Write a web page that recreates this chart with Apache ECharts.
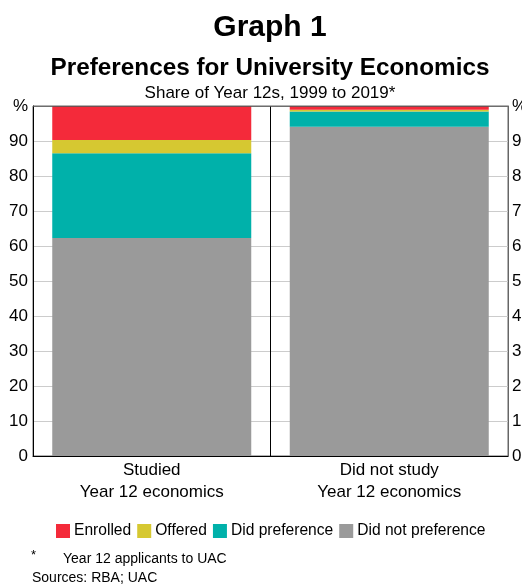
<!DOCTYPE html>
<html>
<head>
<meta charset="utf-8">
<script src="https://cdn.jsdelivr.net/npm/echarts@6/dist/echarts.min.js"></script>
<style>
html,body{margin:0;padding:0;background:#fff;}
#chart{width:522px;height:585px;}
</style>
</head>
<body>
<div id="chart"></div>
<script>
var categories = ['Studied\nYear 12 economics', 'Did not study\nYear 12 economics'];
var enrolled = [9.7, 1.1];
var offered = [3.8, 0.5];
var didPreference = [24.2, 4.3];
var didNotPreference = [62.3, 94.1];
var seriesNames = ['Enrolled', 'Offered', 'Did preference', 'Did not preference'];
var topTickLabel = '%';

var FONT = '"Liberation Sans", Arial, Helvetica, sans-serif';
var chart = echarts.init(document.getElementById('chart'), null, {renderer: 'canvas'});

function yLabel(v) { return v === 100 ? topTickLabel : String(v); }

function barSeries(name, data, color, extra) {
  var s = {
    name: name, type: 'bar', stack: 'total', data: data, barWidth: 199,
    itemStyle: {color: color}, emphasis: {disabled: true}, animation: false
  };
  if (extra) for (var k in extra) s[k] = extra[k];
  return s;
}

var option = {
  animation: false,
  textStyle: {fontFamily: FONT},
  grid: {left: 33, right: 14, top: 106, bottom: 129, containLabel: false, outerBoundsMode: 'none',
         show: true, borderColor: '#666', borderWidth: 1, backgroundColor: 'transparent'},
  legend: {
    data: seriesNames,
    left: 56, top: 523, padding: 0,
    itemWidth: 14, itemHeight: 14, itemGap: 6,
    icon: 'rect',
    textStyle: {fontSize: 15.6, color: '#000', fontFamily: FONT, padding: [0, 0, 0, -1]},
    selectedMode: false
  },
  xAxis: {
    type: 'category', data: categories,
    axisLine: {show: true, lineStyle: {color: '#000', width: 1}},
    axisTick: {show: false},
    splitLine: {show: true, lineStyle: {color: '#000', width: 1}},
    axisLabel: {fontSize: 17, lineHeight: 22.5, color: '#000', margin: 3, fontFamily: FONT, interval: 0}
  },
  yAxis: [
    {
      type: 'value', min: 0, max: 100, interval: 10, position: 'left',
      axisLine: {show: true, lineStyle: {color: '#000', width: 1}},
      axisTick: {show: false},
      splitLine: {show: true, lineStyle: {color: '#cccccc', width: 1}},
      axisLabel: {fontSize: 17, color: '#000', margin: 5, formatter: yLabel, fontFamily: FONT}
    },
    {
      type: 'value', min: 0, max: 100, interval: 10, position: 'right',
      axisLine: {show: true, lineStyle: {color: '#666', width: 1}},
      axisTick: {show: false},
      splitLine: {show: false},
      axisLabel: {fontSize: 17, color: '#000', margin: 4, formatter: yLabel, fontFamily: FONT}
    }
  ],
  series: [
    barSeries(seriesNames[3], didNotPreference, '#9a9a9a'),
    barSeries(seriesNames[2], didPreference, '#00b1aa'),
    barSeries(seriesNames[1], offered, '#d6c831'),
    barSeries(seriesNames[0], enrolled, '#f42a3a', {
      markLine: {
        silent: true, symbol: 'none', label: {show: false},
        lineStyle: {color: '#555', width: 1, type: 'solid', opacity: 0.8},
        data: [{yAxis: 100}], animation: false
      }
    })
  ],
  graphic: [
    {type: 'text', x: 270, y: 28, style: {text: 'Graph 1', font: 'bold 30px ' + FONT, fill: '#000', align: 'center', verticalAlign: 'middle', textAlign: 'center', textVerticalAlign: 'middle'}},
    {type: 'text', x: 270, y: 68.5, style: {text: 'Preferences for University Economics', font: 'bold 24.3px ' + FONT, fill: '#000', align: 'center', verticalAlign: 'middle', textAlign: 'center', textVerticalAlign: 'middle'}},
    {type: 'text', x: 270, y: 93.5, style: {text: 'Share of Year 12s, 1999 to 2019*', font: '17px ' + FONT, fill: '#000', align: 'center', verticalAlign: 'middle', textAlign: 'center', textVerticalAlign: 'middle'}},
    {type: 'text', x: 31, y: 555, style: {text: '*', font: '13px ' + FONT, fill: '#000', align: 'left', verticalAlign: 'middle', textAlign: 'left', textVerticalAlign: 'middle'}},
    {type: 'text', x: 63, y: 559, style: {text: 'Year 12 applicants to UAC', font: '14px ' + FONT, fill: '#000', align: 'left', verticalAlign: 'middle', textAlign: 'left', textVerticalAlign: 'middle'}},
    {type: 'text', x: 32, y: 578.5, style: {text: 'Sources: RBA; UAC', font: '14px ' + FONT, fill: '#000', align: 'left', verticalAlign: 'middle', textAlign: 'left', textVerticalAlign: 'middle'}}
  ]
};
chart.setOption(option);
</script>
</body>
</html>
